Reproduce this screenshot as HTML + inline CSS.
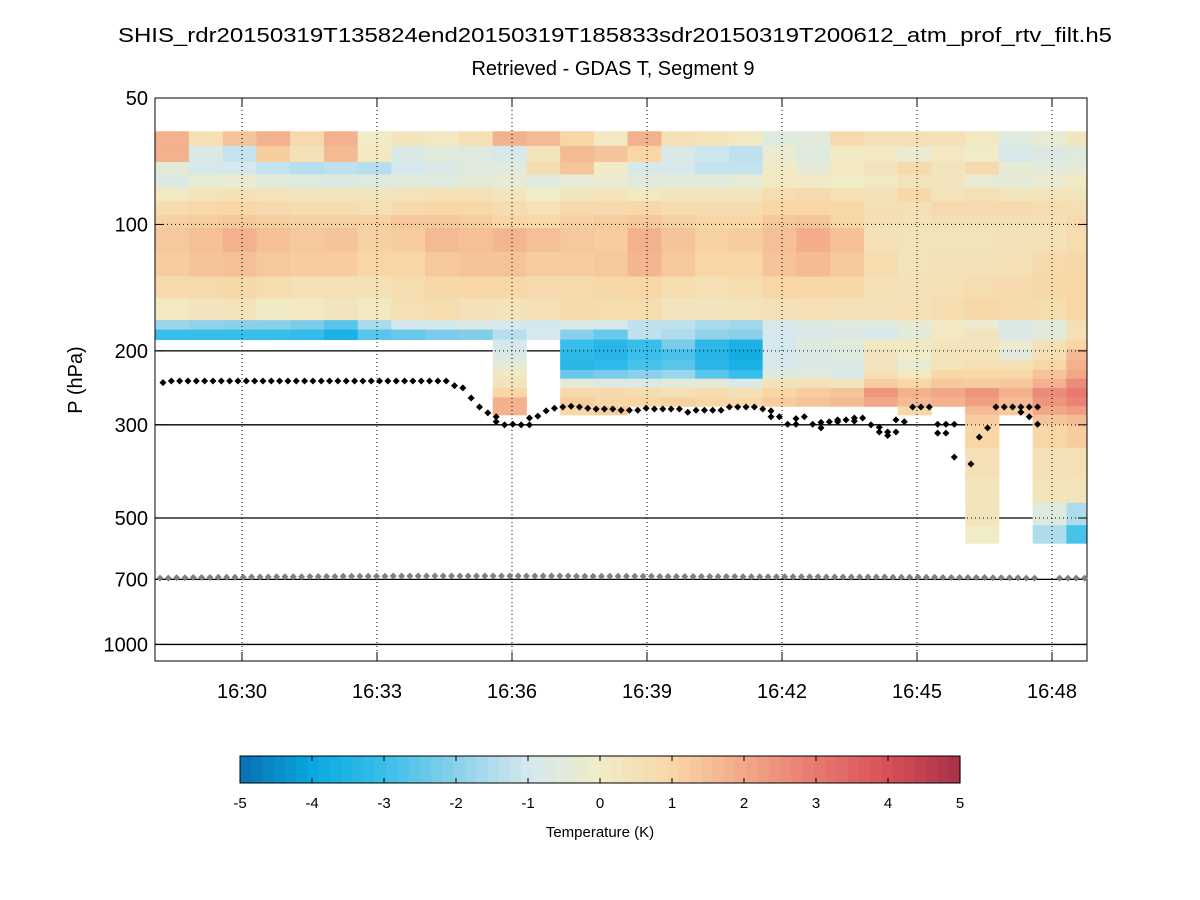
<!DOCTYPE html>
<html><head><meta charset="utf-8"><style>
html,body{margin:0;padding:0;background:#fff;}
svg{display:block;font-family:"Liberation Sans",sans-serif;}
</style></head><body>
<svg id="chart" width="1200" height="900" viewBox="0 0 1200 900" xmlns="http://www.w3.org/2000/svg">
<rect x="0" y="0" width="1200" height="900" fill="#fff"/>
<text x="615" y="42" font-size="20" text-anchor="middle" textLength="994" lengthAdjust="spacingAndGlyphs">SHIS_rdr20150319T135824end20150319T185833sdr20150319T200612_atm_prof_rtv_filt.h5</text>
<text x="613" y="75" font-size="20" text-anchor="middle">Retrieved - GDAS T, Segment 9</text>
<text transform="translate(82,380) rotate(-90)" font-size="20" text-anchor="middle">P (hPa)</text>
<g id="solidLines"></g>
<g id="heat"></g>
<g id="grid"></g>
<g id="axes"></g>
<g id="dots"></g>
<g id="cbar"></g>
<text x="600" y="837" font-size="15" text-anchor="middle">Temperature (K)</text>
</svg>
<script>
// ---- data ----
const timeEdges = [-1.93,-1.18,-0.43,0.32,1.07,1.82,2.57,3.32,4.07,4.82,5.57,6.32,7.07,7.82,8.57,9.32,10.07,10.82,11.57,12.32,13.07,13.82,14.57,15.32,16.07,16.82,17.57,18.32,18.78];
const pressureEdges = [60,65,71,76,82,88,95,102,116,133,150,169,178,188,198,210,222,233,245,258,271,284,299,340,400,460,520,574];
const N = null;
const tempDiff = [
[1.8,0.6,1.4,1.8,0.8,1.8,0.0,0.3,0.2,0.6,1.8,1.6,1.0,0.2,1.8,0.6,0.4,0.2,-0.6,-0.5,0.8,0.6,0.6,0.5,0.2,-0.6,-0.3,0.3],
[1.8,-0.8,-1.2,1.2,0.5,1.6,0.2,-0.8,-0.5,-0.6,-0.9,0.4,1.6,1.4,1.0,-0.8,-1.1,-1.3,-0.2,-0.6,0.1,0.2,-0.2,0.2,0.0,-0.9,-0.7,-0.6],
[-0.4,-0.9,-1.0,-1.2,-1.4,-1.3,-1.4,-1.0,-0.8,-0.6,-0.5,0.7,1.4,0.0,-0.9,-0.9,-1.2,-1.2,0.1,-0.4,0.2,0.3,0.8,0.3,0.8,-0.3,-0.5,-0.4],
[-0.7,-0.3,-0.2,-0.5,-0.6,-0.7,-0.6,-0.5,-0.6,-0.4,-0.3,-0.6,-0.3,-0.2,-0.5,-0.5,-0.5,-0.3,0.2,0.1,0.0,0.2,0.4,0.3,-0.3,-0.4,-0.2,0.1],
[0.2,0.4,0.5,0.4,0.3,0.3,0.3,0.4,0.6,0.6,0.3,0.0,0.3,0.4,0.2,0.3,0.3,0.3,0.7,0.8,0.6,0.5,0.9,0.4,0.6,0.3,0.4,0.4],
[0.7,0.9,1.0,0.8,0.7,0.7,0.6,0.8,0.9,0.9,0.7,0.5,0.8,0.8,0.9,0.7,0.7,0.7,1.0,1.0,0.9,0.6,0.6,0.8,0.8,0.8,0.7,0.6],
[1.1,1.2,1.3,1.2,1.1,1.1,1.1,1.3,1.3,1.2,1.0,0.9,1.1,1.2,1.3,1.1,1.0,1.0,1.3,1.4,1.0,0.6,0.5,0.6,0.6,0.6,0.6,0.8],
[1.3,1.5,1.8,1.5,1.3,1.4,1.1,1.2,1.6,1.5,1.7,1.5,1.3,1.2,1.8,1.4,1.1,1.2,1.5,1.9,1.5,0.5,0.4,0.4,0.4,0.5,0.5,0.7],
[1.2,1.4,1.5,1.3,1.2,1.2,1.0,1.0,1.3,1.4,1.4,1.2,1.2,1.3,1.7,1.3,1.0,1.0,1.4,1.6,1.3,0.7,0.4,0.5,0.5,0.6,0.8,0.9],
[0.8,0.8,0.9,0.7,0.6,0.6,0.5,0.7,0.9,1.0,0.9,0.8,0.8,0.9,1.0,0.7,0.6,0.7,1.0,1.0,0.9,0.6,0.5,0.6,0.7,0.8,0.9,1.0],
[0.2,0.3,0.4,0.1,0.2,0.3,0.2,0.6,0.7,0.5,0.4,0.6,0.8,0.7,0.7,0.3,0.3,0.4,0.5,0.6,0.5,0.5,0.6,0.7,0.9,0.8,0.7,1.0],
[-1.8,-1.9,-2.0,-2.0,-2.2,-2.6,-1.6,-1.0,-1.0,-0.8,-0.9,-1.0,-0.8,-0.9,-1.3,-1.3,-1.6,-1.7,-0.9,-0.7,-0.6,-0.6,-0.3,0.1,-0.2,-0.8,-0.5,0.6],
[-3.0,-3.0,-3.0,-3.0,-3.1,-3.6,-2.6,-2.4,-2.2,-2.1,-1.4,-1.0,-2.0,-2.4,-1.3,-1.5,-1.9,-2.0,-1.0,-0.8,-0.7,-0.9,-0.5,0.2,0.3,-0.8,-0.5,0.5],
[N,N,N,N,N,N,N,N,N,N,-1.0,N,-3.0,-3.3,-3.0,-2.2,-3.2,-3.6,-1.0,-0.6,-0.5,0.2,0.2,0.3,0.3,-0.2,0.5,1.0],
[N,N,N,N,N,N,N,N,N,N,-0.8,N,-3.2,-3.4,-3.0,-2.8,-3.4,-3.8,-1.0,-0.7,-0.6,0.3,0.0,0.4,0.4,-0.5,0.6,1.6],
[N,N,N,N,N,N,N,N,N,N,-0.4,N,-3.3,-3.2,-2.8,-2.6,-3.3,-3.6,-0.9,-0.8,-0.7,0.3,-0.3,0.4,0.6,0.6,1.0,1.8],
[N,N,N,N,N,N,N,N,N,N,0.2,N,-2.4,-2.2,-2.0,-1.8,-2.6,-3.0,-0.6,-0.5,-0.8,0.6,0.2,1.0,0.9,0.9,1.4,2.0],
[N,N,N,N,N,N,N,N,N,N,0.4,N,-0.4,-0.6,-0.7,-0.5,-0.4,-0.8,0.4,0.5,0.3,1.2,1.0,1.3,1.2,1.3,1.8,2.6],
[N,N,N,N,N,N,N,N,N,N,1.0,N,0.8,0.8,0.7,0.6,0.7,0.6,1.0,1.2,1.4,2.4,1.8,2.0,2.4,1.8,2.6,3.0],
[N,N,N,N,N,N,N,N,N,N,1.8,N,1.2,1.0,1.0,1.1,1.0,0.9,1.2,1.4,1.6,2.0,1.6,1.8,2.2,1.6,2.4,2.8],
[N,N,N,N,N,N,N,N,N,N,1.8,N,0.9,1.2,N,N,N,N,N,N,N,N,0.9,N,1.6,1.2,2.0,2.2],
[N,N,N,N,N,N,N,N,N,N,N,N,N,N,N,N,N,N,N,N,N,N,N,N,1.2,N,1.4,1.6],
[N,N,N,N,N,N,N,N,N,N,N,N,N,N,N,N,N,N,N,N,N,N,N,N,1.0,N,1.0,1.2],
[N,N,N,N,N,N,N,N,N,N,N,N,N,N,N,N,N,N,N,N,N,N,N,N,0.6,N,0.5,0.6],
[N,N,N,N,N,N,N,N,N,N,N,N,N,N,N,N,N,N,N,N,N,N,N,N,0.4,N,0.4,0.4],
[N,N,N,N,N,N,N,N,N,N,N,N,N,N,N,N,N,N,N,N,N,N,N,N,0.3,N,-0.6,-1.5],
[N,N,N,N,N,N,N,N,N,N,N,N,N,N,N,N,N,N,N,N,N,N,N,N,0.0,N,-1.5,-2.8]
];
// cloud-top markers: regular sampling start / step (minutes after 16:30)
const dotStart = -1.756, dotStep = 0.1851;
const cloudTopP = [238,236,236,236,236,236,236,236,236,236,236,236,236,236,236,236,236,236,236,236,236,236,236,236,236,236,236,236,236,236,236,236,236,236,236,
242,245,259,272,281,287,300,299,300,289,286,278,274,272,271,272,274,275,275,275,277,277,277,274,275,275,275,275,280,277,277,277,277,272,272,272,272,275,278,287,299,290,287,299,296,295,292,292,289,289,300,304,312,292,295,272,272,272,299,299,299,N,372,321,305,272,272,272,272,272,272];
const cloudTopP2 = {40:295,44:300,73:287,76:299,79:305,81:295,83:294,86:312,87:318,88:312,93:314,94:314,95:358,103:280,104:287,105:299};
const surfaceP = [695,695,694,694,693,693,693,692,692,692,692,691,691,691,690,690,690,690,689,689,689,689,688,688,688,688,688,688,687,687,687,687,687,687,687,687,687,687,687,687,687,687,687,687,687,687,687,687,687,687,688,688,688,688,688,688,688,688,688,688,689,689,689,689,689,689,689,689,689,689,690,690,690,690,690,690,690,690,690,690,691,691,691,691,691,691,691,691,692,692,692,692,692,692,693,693,693,693,693,693,694,694,694,694,695,695,N,N,695,695,695,695];
const yTicks = [50,100,200,300,500,700,1000];
const xTickLabels = ["16:30","16:33","16:36","16:39","16:42","16:45","16:48"];
const xTickTimes = [0,3,6,9,12,15,18];
const cbTicks = [-5,-4,-3,-2,-1,0,1,2,3,4,5];

// ---- scales ----
const PL=155,PR=1087,PT=98,PB=661;
const xS = t => 242 + 45*t;
const yS = p => 98 + 420*Math.log10(p/50);
const stops = [[8,112,180],[8,168,224],[56,190,234],[138,208,234],[212,232,238],[240,236,200],[248,214,166],[242,168,136],[232,120,112],[216,80,88],[168,48,72]];
function cmap(v){
  v=Math.max(-5,Math.min(5,v)); const f=v+5; const i=Math.min(9,Math.floor(f)); const r=f-i;
  const a=stops[i],b=stops[i+1];
  return 'rgb('+a.map((c,k)=>Math.round(c+(b[k]-c)*r)).join(',')+')';
}
const NS='http://www.w3.org/2000/svg';
function mk(tag,attrs,parent){const e=document.createElementNS(NS,tag);for(const k in attrs)e.setAttribute(k,attrs[k]);parent.appendChild(e);return e;}

// solid reference lines
const sl=document.getElementById('solidLines');
yTicks.slice(1).forEach(p=>{
  const l=mk('line',{x1:PL,x2:PR,y1:yS(p),y2:yS(p),stroke:'#000','stroke-width':1.3},sl);
  
  
});

// heatmap
const hg=document.getElementById('heat');
tempDiff.forEach((row,r)=>{
  row.forEach((v,c)=>{
    if(v===null) return;
    const x0=xS(timeEdges[c]), x1=Math.min(PR,xS(timeEdges[c+1]));
    const y0=yS(pressureEdges[r]), y1=yS(pressureEdges[r+1]);
    const rc=mk('rect',{x:x0,y:y0,width:x1-x0+0.5,height:y1-y0+0.5,fill:cmap(v)},hg);
    
    
  });
});

// dotted grid
const gg=document.getElementById('grid');
yTicks.slice(1).forEach(p=>{
  const l=mk('line',{x1:PL,x2:PR,y1:yS(p),y2:yS(p),stroke:'#000','stroke-width':1,'stroke-dasharray':'1,3'},gg);
  
  
});
xTickTimes.forEach(t=>{
  const l=mk('line',{x1:xS(t),x2:xS(t),y1:PT,y2:PB,stroke:'#000','stroke-width':1,'stroke-dasharray':'1,3'},gg);
  
  
});

// axes
const ag=document.getElementById('axes');
const box=mk('rect',{x:PL,y:PT,width:PR-PL,height:PB-PT,fill:'none',stroke:'#000','stroke-width':1},ag);


yTicks.forEach(p=>{
  const y=yS(p);
  mk('line',{x1:PL,x2:PL+9,y1:y,y2:y,stroke:'#000'},ag);
  mk('line',{x1:PR-9,x2:PR,y1:y,y2:y,stroke:'#000'},ag);
  const tx=mk('text',{x:148,y:y+7,'font-size':20,'text-anchor':'end'},ag);
  tx.textContent=p;
  
  
});
xTickTimes.forEach((t,i)=>{
  const x=xS(t);
  mk('line',{x1:x,x2:x,y1:PB,y2:PB-9,stroke:'#000'},ag);
  mk('line',{x1:x,x2:x,y1:PT,y2:PT+9,stroke:'#000'},ag);
  const tx=mk('text',{x:x,y:698,'font-size':20,'text-anchor':'middle'},ag);
  tx.textContent=xTickLabels[i];
  
  
});

// markers
const dg=document.getElementById('dots');
function diamond(x,y,col,name){
  const d=mk('path',{d:`M${x-3.5},${y}L${x},${y-3.5}L${x+3.5},${y}L${x},${y+3.5}Z`,fill:col},dg);
  
  
}
surfaceP.forEach((p,i)=>{ if(p!==null) diamond(xS(dotStart+dotStep*i)-3,yS(p),'#808080','surface-marker'); });
cloudTopP.forEach((p,i)=>{ if(p!==null) diamond(xS(dotStart+dotStep*i),yS(p),'#000','cloud-top-marker'); });
Object.keys(cloudTopP2).forEach(k=>{ diamond(xS(dotStart+dotStep*(+k)),yS(cloudTopP2[k]),'#000','cloud-top-marker-secondary'); });

// colorbar
const cg=document.getElementById('cbar');
const CX0=240,CX1=960,CY0=756,CY1=783;
const nSeg=64;
for(let i=0;i<nSeg;i++){
  const v=-5+10*(i+0.5)/nSeg;
  mk('rect',{x:CX0+(CX1-CX0)*i/nSeg,y:CY0,width:(CX1-CX0)/nSeg+0.6,height:CY1-CY0,fill:cmap(v)},cg);
}
mk('rect',{x:CX0,y:CY0,width:CX1-CX0,height:CY1-CY0,fill:'none',stroke:'#000'},cg);
cbTicks.forEach(v=>{
  const x=CX0+(CX1-CX0)*(v+5)/10;
  mk('line',{x1:x,x2:x,y1:CY0,y2:CY0+5,stroke:'#000'},cg);
  mk('line',{x1:x,x2:x,y1:CY1,y2:CY1-5,stroke:'#000'},cg);
  const tx=mk('text',{x:x,y:808,'font-size':15,'text-anchor':'middle'},cg);
  tx.textContent=v;
  
  
});
</script>
</body></html>
